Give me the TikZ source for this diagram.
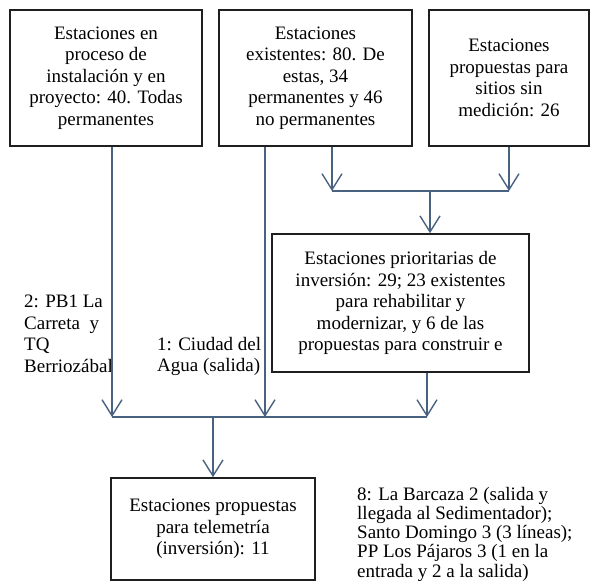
\documentclass[tikz,border=0pt]{standalone}
\usepackage{fontspec}
\setmainfont{Liberation Serif}
\usetikzlibrary{arrows.meta}
\definecolor{conncol}{HTML}{4A6282}
\begin{document}
\begin{tikzpicture}[x=1pt,y=-1pt,
  box/.style={draw=black!88, line width=1.6pt, rectangle, inner sep=0pt, align=center, font=\fontsize{19}{21.5}\selectfont},
  lbl/.style={inner sep=0pt, align=left, font=\fontsize{19}{21.5}\selectfont, anchor=north west},
  conn/.style={draw=conncol, line width=1.4pt, -{Straight Barb[length=16pt,width=20pt,line width=1.4pt]}},
  plain/.style={draw=conncol, line width=1.4pt}]
\fill[white] (0,0) rectangle (590,581);
\useasboundingbox (0,0) rectangle (590,581);

\node[box, minimum width=192pt, minimum height=136pt] (b1) at (106,78)
  {Estaciones en\\proceso de\\instalación y en\\proyecto: 40. Todas\\permanentes};
\node[box, minimum width=193pt, minimum height=136pt] (b2) at (315.5,78)
  {Estaciones\\existentes: 80. De\\estas, 34\\permanentes y 46\\no permanentes};
\node[box, minimum width=160pt, minimum height=136pt] (b3) at (509,78)
  {Estaciones\\propuestas para\\sitios sin\\medición: 26};
\node[box, minimum width=257pt, minimum height=138pt] (b4) at (400.5,303)
  {Estaciones prioritarias de\\inversión: 29; 23 existentes\\para rehabilitar y\\modernizar, y 6 de las\\propuestas para construir e};
\node[box, minimum width=204pt, minimum height=102pt] (b5) at (213,529)
  {Estaciones propuestas\\para telemetría\\(inversión): 11};

\node[lbl] (l2) at (24,295) {2: PB1 La\\Carreta\ \ y\\TQ\\Berriozábal};
\node[lbl] (l1) at (157,337) {1: Ciudad del\\Agua (salida)};
\node[lbl, font=\fontsize{19}{19.2}\selectfont] (l8) at (357,487) {8: La Barcaza 2 (salida y\\llegada al Sedimentador);\\Santo Domingo 3 (3 líneas);\\PP Los Pájaros 3 (1 en la\\entrada y 2 a la salida)};

\coordinate (t1) at (332,191);
\coordinate (t2) at (509,191);
\coordinate (tm) at (430,191);
\coordinate (u1) at (112,417);
\coordinate (u2) at (265,417);
\coordinate (u3) at (427,417);
\coordinate (um) at (213,417);

\draw[conn] (b2.south -| t1) -- (t1);
\draw[conn] (b3.south) -- (t2);
\draw[plain] (t1) -- (t2);
\draw[conn] (tm) -- (tm |- b4.north);
\draw[conn] (b1.south -| u1) -- (u1);
\draw[conn] (b2.south -| u2) -- (u2);
\draw[conn] (b4.south -| u3) -- (u3);
\draw[plain] (u1) -- (u3);
\draw[conn] (um) -- (b5.north);
\end{tikzpicture}
\end{document}
